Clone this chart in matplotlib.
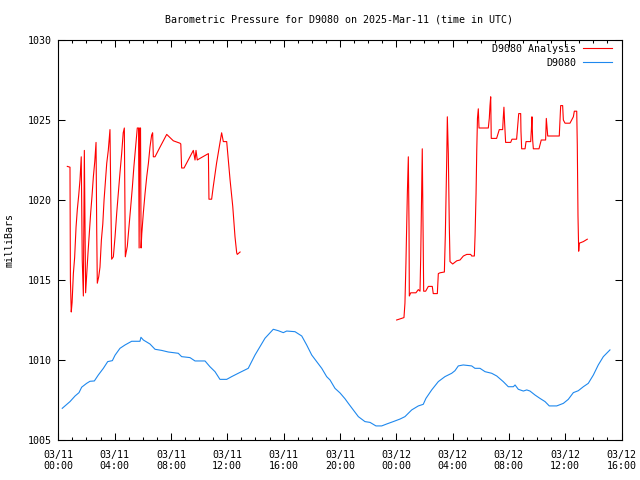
import numpy as np
import matplotlib
matplotlib.use("Agg")
import matplotlib.pyplot as plt
from matplotlib.ticker import MultipleLocator, FixedLocator

# ---- data (hours after 2025-03-11 00:00 UTC, pressure in mb) ----
analysis_hours_1 = [0.64, 0.83, 0.86, 0.92, 0.98, 1.07, 1.16, 1.26, 1.35, 1.45, 1.54, 1.63,
                    1.70, 1.78, 1.85, 1.94, 2.02, 2.11, 2.20, 2.30, 2.39, 2.49, 2.59, 2.68,
                    2.73, 2.77, 2.87, 2.96, 3.06, 3.16, 3.25, 3.34, 3.44, 3.55, 3.67, 3.73,
                    3.79, 3.91, 4.03, 4.15, 4.26, 4.38, 4.50, 4.61, 4.69, 4.76, 4.90, 5.02,
                    5.14, 5.26, 5.37, 5.49, 5.61, 5.70, 5.74, 5.78, 5.84, 5.88, 5.93, 6.04,
                    6.16, 6.28, 6.40, 6.51, 6.63, 6.70, 6.75, 6.87, 7.22, 7.70, 7.93, 8.17,
                    8.64, 8.70, 8.76, 8.93, 9.47, 9.59, 9.71, 9.78, 9.87, 10.06, 10.66, 10.70,
                    10.89, 11.00, 11.24, 11.43, 11.60, 11.72, 11.96, 12.20, 12.39, 12.55,
                    12.67, 12.71, 12.91]
analysis_mb_1 = [1022.1, 1022.05, 1015.0, 1013.0, 1013.6, 1015.4, 1016.4, 1018.3, 1019.4, 1020.3,
                 1021.25, 1022.7, 1016.25, 1014.0, 1023.1, 1014.2, 1015.4, 1016.7, 1017.9, 1019.2,
                 1020.2, 1021.45, 1022.4, 1023.6, 1018.0, 1014.8, 1015.2, 1015.8, 1017.5, 1018.5,
                 1020.0, 1021.05, 1022.3, 1023.1, 1024.4, 1020.0, 1016.3, 1016.45, 1017.7, 1019.2,
                 1020.4, 1021.7, 1022.9, 1024.2, 1024.5, 1016.45, 1017.1, 1018.3, 1019.55, 1020.8,
                 1022.1, 1023.3, 1024.5, 1024.5, 1017.0, 1024.5, 1024.5, 1017.0, 1017.9, 1019.2,
                 1020.4, 1021.45, 1022.3, 1023.3, 1024.06, 1024.2, 1022.7, 1022.7, 1023.3, 1024.1,
                 1023.9, 1023.7, 1023.55, 1023.5, 1022.0, 1022.0, 1022.9, 1023.1, 1022.5, 1023.1,
                 1022.5, 1022.6, 1022.9, 1020.05, 1020.05, 1020.8, 1022.3, 1023.3, 1024.2, 1023.65,
                 1023.65, 1021.25, 1019.6, 1017.7, 1016.7, 1016.6, 1016.75]

analysis_hours_2 = [24.03, 24.39, 24.55, 24.62, 24.69, 24.79, 24.86, 24.91, 24.93, 25.03, 25.40,
                    25.57, 25.69, 25.74, 25.81, 25.85, 25.90, 25.95, 26.09, 26.28, 26.56, 26.63,
                    26.92, 26.99, 27.11, 27.42, 27.49, 27.59, 27.63, 27.70, 27.77, 27.82, 28.01,
                    28.30, 28.53, 28.77, 29.01, 29.29, 29.36, 29.55, 29.60, 29.67, 29.72, 29.77,
                    29.83, 29.88, 30.54, 30.61, 30.66, 30.71, 30.75, 31.13, 31.25, 31.32, 31.56,
                    31.60, 31.65, 31.70, 31.77, 32.13, 32.22, 32.55, 32.70, 32.84, 32.86, 32.91,
                    33.15, 33.22, 33.55, 33.60, 33.64, 33.69, 33.74, 34.14, 34.26, 34.30, 34.61,
                    34.66, 34.71, 34.76, 35.58, 35.63, 35.68, 35.82, 35.87, 35.99, 36.34, 36.58,
                    36.65, 36.82, 36.86, 36.91, 36.96, 37.00, 37.29, 37.57]
analysis_mb_2 = [1012.5, 1012.6, 1012.65, 1013.55, 1016.05, 1020.4, 1022.7, 1018.3, 1014.0, 1014.2,
                 1014.2, 1014.4, 1014.3, 1016.45, 1021.05, 1023.2, 1018.75, 1014.3, 1014.3, 1014.6,
                 1014.6, 1014.15, 1014.15, 1015.4, 1015.45, 1015.5, 1017.9, 1022.7, 1025.2, 1022.9,
                 1018.4, 1016.15, 1016.0, 1016.2, 1016.25, 1016.5, 1016.6, 1016.6, 1016.5, 1016.5,
                 1017.8, 1020.4, 1023.1, 1025.1, 1025.7, 1024.5, 1024.5, 1025.1, 1025.9, 1026.45,
                 1023.85, 1023.85, 1024.2, 1024.4, 1024.4, 1025.1, 1025.8, 1024.8, 1023.6, 1023.6,
                 1023.8, 1023.8, 1025.4, 1025.4, 1024.3, 1023.2, 1023.2, 1023.65, 1023.65, 1024.4,
                 1025.2, 1023.75, 1023.2, 1023.2, 1023.6, 1023.75, 1023.75, 1025.1, 1024.55, 1024.0,
                 1024.0, 1024.9, 1025.9, 1025.9, 1025.0, 1024.8, 1024.8, 1025.2, 1025.55, 1025.55,
                 1023.45, 1019.0, 1016.8, 1017.3, 1017.4, 1017.55]

station_hours = [0.28, 0.83, 1.19, 1.47, 1.66, 2.01, 2.25, 2.56, 2.84, 3.20, 3.51, 3.84, 4.03,
                 4.38, 4.74, 5.21, 5.80, 5.87, 6.04, 6.51, 6.87, 7.34, 7.81, 8.52, 8.76, 9.35,
                 9.71, 10.42, 10.77, 11.13, 11.48, 11.96, 12.31, 12.78, 13.49, 13.97, 14.68,
                 15.27, 15.63, 15.98, 16.22, 16.81, 17.29, 17.64, 18.00, 18.35, 18.71, 19.06,
                 19.30, 19.65, 20.01, 20.36, 20.60, 20.95, 21.31, 21.78, 22.14, 22.56, 22.97,
                 23.32, 23.79, 24.27, 24.62, 25.10, 25.57, 25.92, 26.11, 26.52, 26.99, 27.46,
                 27.94, 28.17, 28.41, 28.76, 29.36, 29.59, 29.95, 30.31, 30.78, 31.14, 31.60,
                 31.96, 32.32, 32.44, 32.67, 33.03, 33.27, 33.50, 33.86, 34.21, 34.57, 34.87,
                 35.40, 35.87, 36.22, 36.58, 36.93, 37.29, 37.64, 38.00, 38.35, 38.71, 39.18]
station_mb = [1006.98, 1007.4, 1007.75, 1007.96, 1008.3, 1008.54, 1008.67, 1008.69, 1009.06,
              1009.48, 1009.9, 1009.96, 1010.3, 1010.73, 1010.94, 1011.17, 1011.17, 1011.42,
              1011.25, 1011.0, 1010.67, 1010.6, 1010.5, 1010.42, 1010.21, 1010.15, 1009.94,
              1009.94, 1009.58, 1009.27, 1008.79, 1008.79, 1008.96, 1009.17, 1009.48, 1010.31,
              1011.36, 1011.92, 1011.83, 1011.71, 1011.81, 1011.77, 1011.5, 1010.94, 1010.31,
              1009.9, 1009.48, 1008.96, 1008.75, 1008.23, 1007.94, 1007.58, 1007.29, 1006.88,
              1006.46, 1006.15, 1006.1, 1005.88, 1005.88, 1006.0, 1006.15, 1006.31, 1006.46,
              1006.88, 1007.13, 1007.23, 1007.6, 1008.13, 1008.65, 1008.96, 1009.17, 1009.33,
              1009.63, 1009.69, 1009.63, 1009.48, 1009.48, 1009.27, 1009.17, 1009.0, 1008.65,
              1008.33, 1008.33, 1008.44, 1008.17, 1008.06, 1008.13, 1008.06, 1007.81, 1007.6,
              1007.4, 1007.13, 1007.13, 1007.29, 1007.54, 1007.96, 1008.08, 1008.33, 1008.54,
              1009.06, 1009.69, 1010.21, 1010.63]

x_tick_hours = [0, 4, 8, 12, 16, 20, 24, 28, 32, 36, 40]
x_tick_labels = ["03/11\n00:00", "03/11\n04:00", "03/11\n08:00", "03/11\n12:00",
                 "03/11\n16:00", "03/11\n20:00", "03/12\n00:00", "03/12\n04:00",
                 "03/12\n08:00", "03/12\n12:00", "03/12\n16:00"]
y_ticks = [1005, 1010, 1015, 1020, 1025, 1030]

title = "Barometric Pressure for D9080 on 2025-Mar-11 (time in UTC)"

# ---- figure ----
plt.rcParams['font.family'] = ['DejaVu Sans Mono']
FS = 7.2
LW = 0.8
fig = plt.figure(figsize=(6.4, 4.8), dpi=100)
ax = fig.add_axes([58.3 / 640, 40 / 480, (621.5 - 58.3) / 640, 400 / 480])

ana_x = analysis_hours_1 + [np.nan] + analysis_hours_2
ana_y = analysis_mb_1 + [np.nan] + analysis_mb_2
ax.plot(ana_x, ana_y, color='#ff0000', lw=LW, label='D9080 Analysis')
ax.plot(station_hours, station_mb, color='#1e88ee', lw=LW, label='D9080')

ax.set_xlim(0, 40)
ax.set_ylim(1005, 1030)
ax.xaxis.set_major_locator(FixedLocator(x_tick_hours))
ax.set_xticklabels(x_tick_labels, fontsize=FS, linespacing=1.2)
ax.xaxis.set_minor_locator(MultipleLocator(1))
ax.set_yticks(y_ticks)
ax.set_yticklabels([str(v) for v in y_ticks], fontsize=FS)

ax.tick_params(axis='both', which='major', direction='in', length=5, width=0.75,
               top=True, right=True, colors='black')
ax.tick_params(axis='x', which='minor', direction='in', length=2.5, width=0.75,
               top=True, bottom=True)
ax.tick_params(axis='x', which='major', pad=7)
ax.tick_params(axis='y', which='major', pad=5)
for s in ax.spines.values():
    s.set_linewidth(0.8)
    s.set_color('black')

fig.text(339 / 640, 1 - 19 / 480, title, ha='center', va='center', fontsize=FS)
fig.text(10 / 640, 0.5, "milliBars", rotation=90, ha='center', va='center', fontsize=FS)

leg = ax.legend(loc='upper right', bbox_to_anchor=(0.983, 0.99), frameon=False,
                markerfirst=False, fontsize=FS, handlelength=2.9, handletextpad=0.7,
                labelspacing=0.4, borderpad=0, borderaxespad=0)

fig.savefig("out.png", dpi=100)
